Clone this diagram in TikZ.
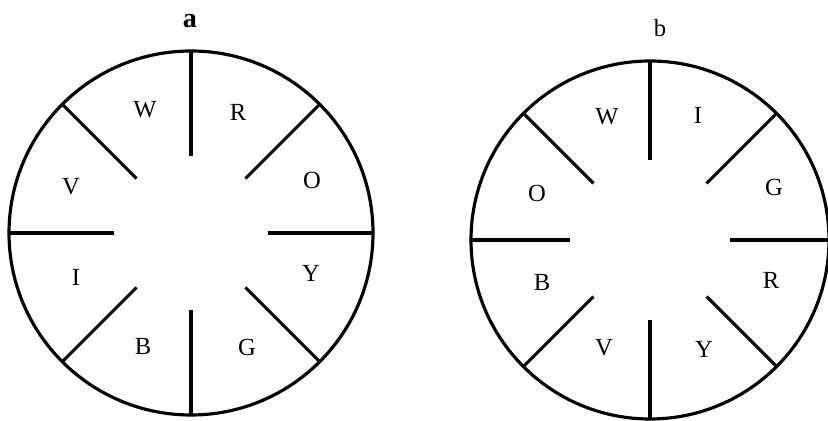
\documentclass[tikz,border=0pt]{standalone}
\usepackage{fontspec}
\setmainfont{Liberation Serif}
\tikzset{
  wheel/.style={line width=1.8pt},
  colour/.style={font=\fontsize{14}{16}\selectfont}
}
\begin{document}
\begin{tikzpicture}[x=0.02cm,y=-0.02cm]
\useasboundingbox (0,0) rectangle (828,421);
\coordinate (ca) at (191,233);
\coordinate (cb) at (650,240);

\node (ta) at (190,21) {\fontsize{16}{18}\selectfont\bfseries a};
\draw[wheel] (ca) circle (182);
\foreach \a in {0,45,...,315}
  \draw[wheel] ([shift={(\a:77)}]ca) -- ([shift={(\a:182)}]ca);
\foreach \n/\x/\y in {W/145/110,R/238/112,O/312/180,Y/311/273,G/247/347,B/143/346,I/76/277,V/71/187}
  \node[colour] (a\n) at (\x,\y) {\n};

\node (tb) at (660,28) {\fontsize{14}{16}\selectfont b};
\draw[wheel] (cb) circle (179);
\foreach \a in {0,45,...,315}
  \draw[wheel] ([shift={(\a:80)}]cb) -- ([shift={(\a:179)}]cb);
\foreach \n/\x/\y in {W/607/117,I/698/115,G/774/187,R/771/280,Y/704/349,V/604/348,B/542/282,O/537/193}
  \node[colour] (b\n) at (\x,\y) {\n};
\end{tikzpicture}
\end{document}
